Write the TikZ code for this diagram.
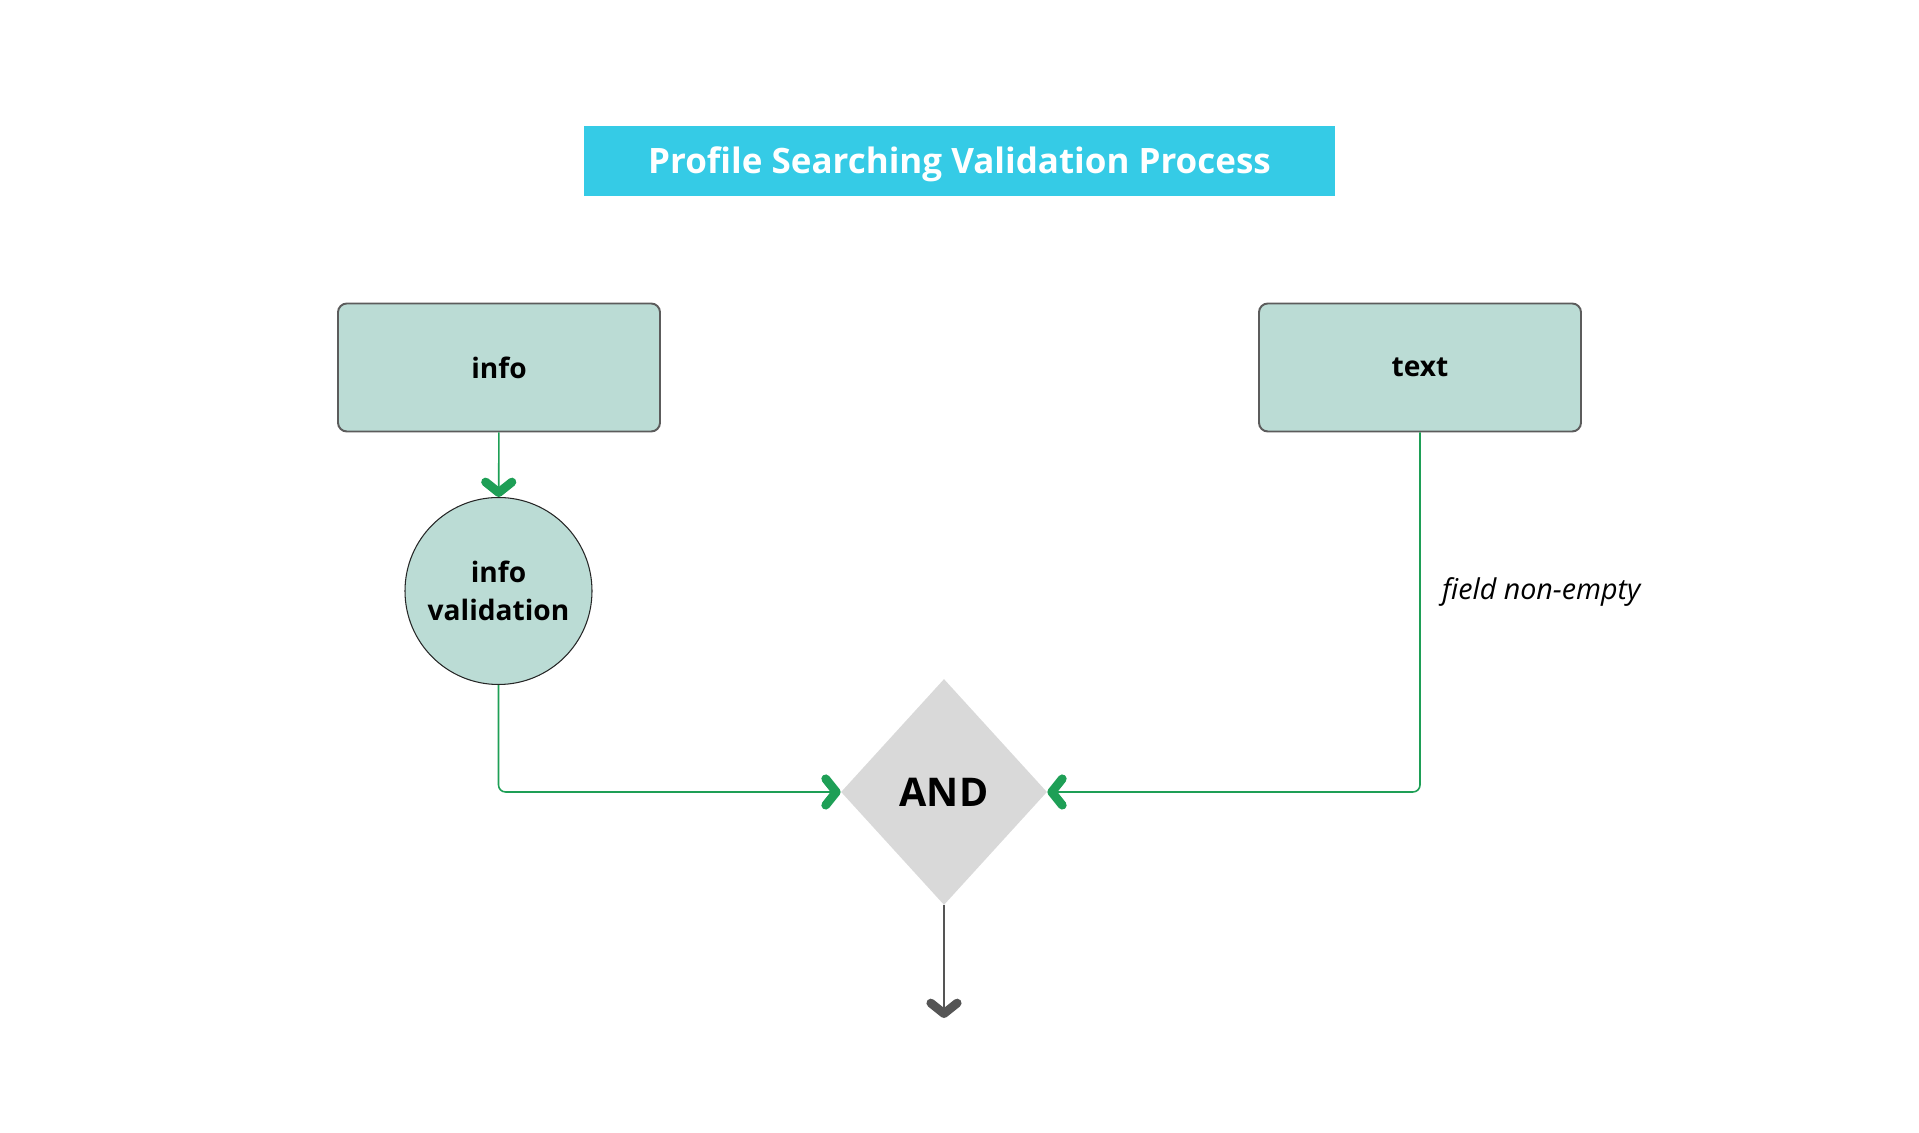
\documentclass[tikz,border=0pt]{standalone}
\usepackage{fontspec}
\setmainfont{Open Sans}
\usetikzlibrary{arrows.meta,positioning,shapes.geometric}
\definecolor{titolo}{HTML}{35CBE6}
\definecolor{scatola}{HTML}{BBDCD5}
\definecolor{bordo}{HTML}{5C5C5C}
\definecolor{verde}{HTML}{1E9F56}
\definecolor{grigio}{HTML}{D9D9D9}
\definecolor{freccia}{HTML}{555555}

\tikzset{
  campo/.style={draw=bordo, line width=1.1pt, fill=scatola, rounded corners=5pt,
    minimum width=6.44cm, minimum height=2.56cm, font=\fontsize{16}{19}\selectfont\bfseries},
  verifica/.style={circle, draw=black!85, line width=0.6pt, fill=scatola,
    minimum size=3.74cm, inner sep=0pt, align=center,
    font=\fontsize{16}{21.6}\selectfont\bfseries},
  porta/.style={diamond, fill=grigio, minimum width=4.12cm, minimum height=4.52cm,
    inner sep=0pt, font=\fontsize{22.5}{27}\selectfont\bfseries},
  punta/.style={-{Straight Barb[length=6pt, width=15pt, line width=5pt, round]}},
  flusso/.style={draw=verde, line width=0.9pt, rounded corners=4pt, punta},
  uscita/.style={draw=freccia, line width=1.1pt, punta}
}

\begin{document}
\begin{tikzpicture}
        \useasboundingbox (0,0) rectangle (38.38,22.66);
        % Titolo
        \node[fill=titolo, minimum width=15.02cm, minimum height=1.4cm, text=white,
          text height=0.6cm, text depth=0.1cm,
          font=\fontsize{19.9}{24}\selectfont\bfseries] (title) at (19.19,19.44)
          {Profile Searching Validation Process};

        % Campi
        \node[campo] (info) at (9.98,15.31) {info};
        \node[campo] (text) at (28.4,15.31) {text};
        \node[verifica] (check) at (9.97,10.84) {info\\validation};

        % Porta AND
        \node[porta] (and) at (18.88,6.82) {AND};
        \coordinate (out) at (18.88,2.30);

        % Collegamenti
        \draw[flusso] (info) -- (check);
        \draw[flusso] (check.south) |- (and.west);
        \draw[flusso] (text.south) |- (and.east);
        \draw[uscita] (and.south) -- (out);

        \node[anchor=west, font=\fontsize{16.3}{19}\selectfont\itshape] (cond) at (28.72,10.82)
          {field non-empty};
\end{tikzpicture}
\end{document}
